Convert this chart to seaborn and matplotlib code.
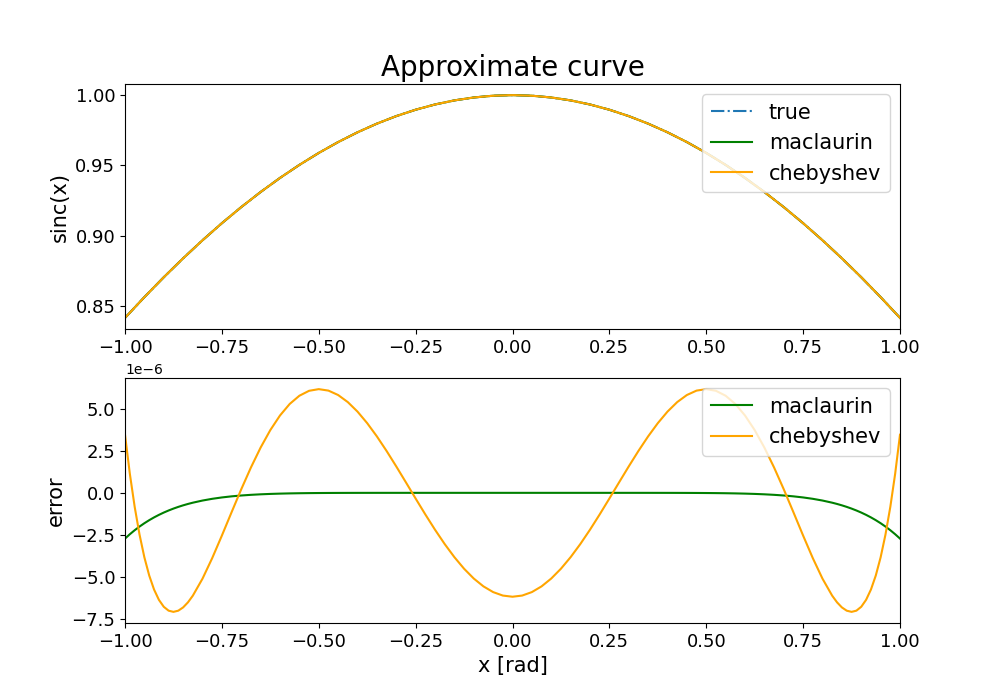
import matplotlib
matplotlib.use("Agg")
import matplotlib.pyplot as plt
import seaborn as sns
import numpy as np

# ---- data ----
# top panel: sinc(x) (all three curves coincide at this scale)
x_top = [-1.00, -0.95, -0.90, -0.85, -0.80, -0.75, -0.70, -0.65, -0.60, -0.55,
         -0.50, -0.45, -0.40, -0.35, -0.30, -0.25, -0.20, -0.15, -0.10, -0.05,
         0.00, 0.05, 0.10, 0.15, 0.20, 0.25, 0.30, 0.35, 0.40, 0.45,
         0.50, 0.55, 0.60, 0.65, 0.70, 0.75, 0.80, 0.85, 0.90, 0.95, 1.00]
sinc_true = [0.841471, 0.856228, 0.870363, 0.883859, 0.896695, 0.908852, 0.920311,
             0.931055, 0.941071, 0.950340, 0.958851, 0.966591, 0.973546, 0.979709,
             0.985067, 0.989616, 0.993347, 0.996254, 0.998334, 0.999583, 1.000000,
             0.999583, 0.998334, 0.996254, 0.993347, 0.989616, 0.985067, 0.979709,
             0.973546, 0.966591, 0.958851, 0.950340, 0.941071, 0.931055, 0.920311,
             0.908852, 0.896695, 0.883859, 0.870363, 0.856228, 0.841471]
sinc_maclaurin = list(sinc_true)
sinc_chebyshev = list(sinc_true)

# bottom panel: errors (units of 1e-6)
x_err = [-1.0, -0.9875, -0.975, -0.9625, -0.95, -0.9375, -0.925, -0.9125, -0.9,
         -0.8875, -0.875, -0.8625, -0.85, -0.8375, -0.825, -0.8, -0.775, -0.75, -0.725, -0.7, -0.675, -0.65,
         -0.625, -0.6, -0.575, -0.55, -0.525, -0.5, -0.475, -0.45, -0.425, -0.4,
         -0.375, -0.35, -0.325, -0.3, -0.275, -0.25, -0.225, -0.2, -0.175, -0.15,
         -0.125, -0.1, -0.075, -0.05, -0.025, 0.0,
         0.025, 0.05, 0.075, 0.1, 0.125, 0.15, 0.175, 0.2, 0.225, 0.25, 0.275,
         0.3, 0.325, 0.35, 0.375, 0.4, 0.425, 0.45, 0.475, 0.5, 0.525, 0.55,
         0.575, 0.6, 0.625, 0.65, 0.675, 0.7, 0.725, 0.75, 0.775, 0.8, 0.825,
         0.8375, 0.85, 0.8625, 0.875, 0.8875, 0.9, 0.9125, 0.925, 0.9375, 0.95, 0.9625, 0.975, 0.9875, 1.0]
err_maclaurin_u = [-2.7307, -2.4698, -2.2310, -2.0125, -1.8132, -1.6313, -1.4654, -1.3146, -1.1775,
                   -1.0531, -0.9403, -0.8382, -0.7460, -0.6627, -0.5877, -0.4596, -0.3567, -0.2745, -0.2093,
                   -0.1582, -0.1188, -0.0878,
                   -0.0642, -0.0463, -0.0329, -0.0231, -0.0159, -0.0108, -0.0071, -0.0046, -0.0029, -0.0018,
                   -0.0011, -0.0006, -0.0003, -0.0002, -0.0001, 0.0, 0.0, 0.0, 0.0, 0.0,
                   0.0, 0.0, 0.0, 0.0, 0.0, 0.0,
                   0.0, 0.0, 0.0, 0.0, 0.0, 0.0, 0.0, 0.0, 0.0, 0.0, -0.0001,
                   -0.0002, -0.0003, -0.0006, -0.0011, -0.0018, -0.0029, -0.0046, -0.0071, -0.0108, -0.0159, -0.0231,
                   -0.0329, -0.0463, -0.0642, -0.0878, -0.1188, -0.1582, -0.2093, -0.2745, -0.3567, -0.4596, -0.5877,
                   -0.6627, -0.7460, -0.8382, -0.9403, -1.0531, -1.1775, -1.3146, -1.4654, -1.6313, -1.8132,
                   -2.0125, -2.2310, -2.4698, -2.7307]
err_chebyshev_u = [3.4697, 1.1376, -0.8396, -2.4924, -3.8492, -4.9342, -5.7718, -6.3863, -6.7993,
                   -7.0319, -7.1036, -7.0331, -6.8380, -6.5344, -6.1381, -5.1235, -3.8980, -2.5512, -1.1593,
                   0.2136, 1.5147, 2.7030,
                   3.7452, 4.6176, 5.3042, 5.7959, 6.0901, 6.1896, 6.1019, 5.8388, 5.4151, 4.8486,
                   4.1595, 3.3695, 2.5011, 1.5780, 0.6235, -0.3391, -1.2873, -2.1996, -3.0559, -3.8377,
                   -4.5284, -5.1139, -5.5820, -5.9233, -6.1308, -6.2004,
                   -6.1308, -5.9233, -5.5820, -5.1139, -4.5284, -3.8377, -3.0559, -2.1996, -1.2873, -0.3391, 0.6235,
                   1.5780, 2.5011, 3.3695, 4.1595, 4.8486, 5.4151, 5.8388, 6.1019, 6.1896, 6.0901, 5.7959,
                   5.3042, 4.6176, 3.7452, 2.7030, 1.5147, 0.2136, -1.1593, -2.5512, -3.8980, -5.1235, -6.1381,
                   -6.5344, -6.8380, -7.0331, -7.1036, -7.0319, -6.7993, -6.3863, -5.7718, -4.9342, -3.8492,
                   -2.4924, -0.8396, 1.1376, 3.4697]
err_scale = 1e-6

err_maclaurin = np.array(err_maclaurin_u) * err_scale
err_chebyshev = np.array(err_chebyshev_u) * err_scale

plt.rcParams['font.family'] = ['DejaVu Sans']

fig, (ax1, ax2) = plt.subplots(2, 1, figsize=(10, 7), dpi=100)

sns.lineplot(x=x_top, y=sinc_true, ax=ax1, color='C0', linestyle='-.', label='true', sort=False)
sns.lineplot(x=x_top, y=sinc_maclaurin, ax=ax1, color='green', label='maclaurin', sort=False)
sns.lineplot(x=x_top, y=sinc_chebyshev, ax=ax1, color='orange', label='chebyshev', sort=False)
ax1.set_xlim(-1, 1)
ax1.set_title('Approximate curve', fontsize=20)
ax1.set_ylabel('sinc(x)', fontsize=15)
ax1.set_xlabel('')
ax1.tick_params(labelsize=13)
ax1.legend(loc='upper right', fontsize=15)

sns.lineplot(x=x_err, y=err_maclaurin, ax=ax2, color='green', label='maclaurin', sort=False)
sns.lineplot(x=x_err, y=err_chebyshev, ax=ax2, color='orange', label='chebyshev', sort=False)
ax2.set_xlim(-1, 1)
ax2.set_ylabel('error', fontsize=15)
ax2.set_xlabel('x [rad]', fontsize=15)
ax2.tick_params(labelsize=13)
ax2.yaxis.get_offset_text().set_fontsize(10)
ax2.legend(loc='upper right', fontsize=15)

fig.savefig('out.png', dpi=100)
